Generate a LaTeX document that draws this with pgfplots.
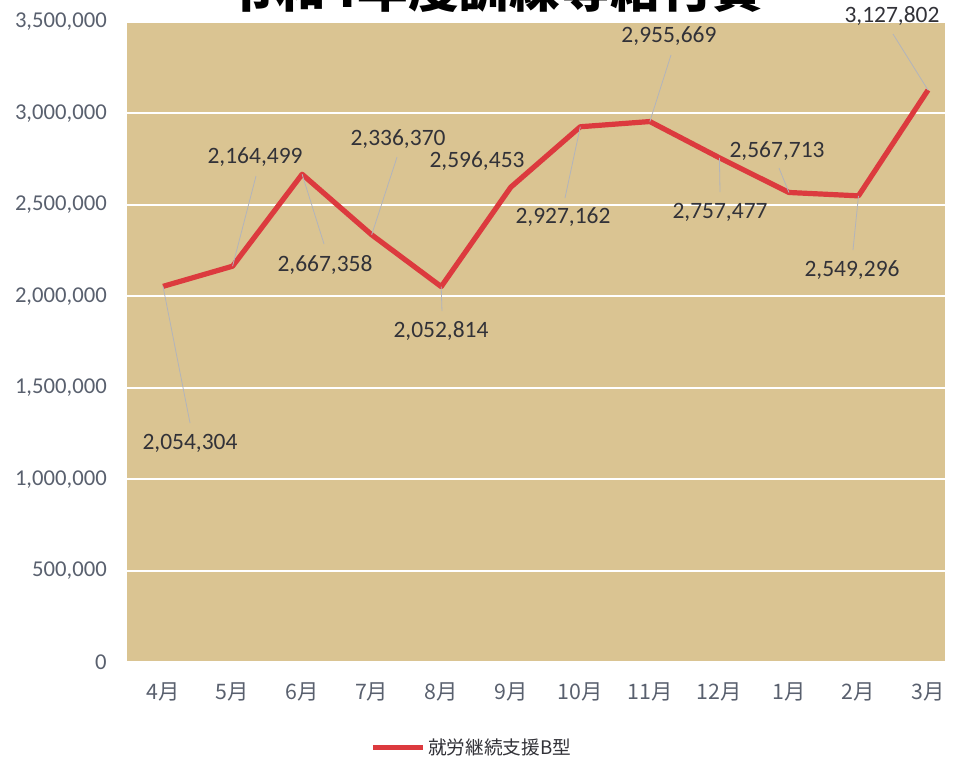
\documentclass[border=0pt]{standalone}
\usepackage{fontspec}
\setmainfont{Carlito}
\newfontfamily\jp{Noto Sans CJK JP}
\usepackage{pgfplots}
\pgfplotsset{compat=1.18}
\definecolor{bg}{RGB}{218,196,146}
\definecolor{ln}{RGB}{220,58,62}
\definecolor{tk}{RGB}{89,96,110}
\definecolor{dl}{RGB}{50,50,56}
\definecolor{ld}{RGB}{178,180,188}
\begin{document}
\begin{tikzpicture}
\node[overlay, anchor=base, inner sep=0pt, font=\jp\bfseries\fontsize{38}{40}\selectfont] at (370.5pt,564pt) {令和4年度訓練等給付費};
\begin{axis}[
 at={(95.25pt,73.5pt)}, anchor=south west,
 scale only axis, width=613.5pt, height=480pt,
 xmin=-0.518, xmax=11.244, ymin=0, ymax=3500000,
 axis background/.style={fill=bg},
 axis line style={draw=none},
 major tick length=0pt,
 xtick={0,1,2,3,4,5,6,7,8,9,10,11},
 xticklabels={4月,5月,6月,7月,8月,9月,10月,11月,12月,1月,2月,3月},
 xticklabel style={font=\jp\fontsize{16}{16}\selectfont, text=tk, anchor=center, yshift=-22.5pt},
 ytick={0,500000,1000000,1500000,2000000,2500000,3000000,3500000},
 scaled y ticks=false,
 yticklabel style={font=\fontsize{17}{17}\selectfont, text=tk, anchor=east, inner sep=0pt, xshift=-15pt,
   /pgf/number format/fixed, /pgf/number format/1000 sep={,}, /pgf/number format/assume math mode=true},
 ymajorgrids, grid style={white, line width=1.5pt},
 clip=false,
 legend style={at={(0.4218,-0.134)}, anchor=center, draw=none, fill=none, font=\jp\fontsize{14}{14}\selectfont, text=dl},
 legend image code/.code={\draw[ln, line width=3.75pt] (0pt,0pt) -- (37.5pt,0pt);},
]
\addplot[ln, line width=3.9pt, line join=round] coordinates {
 (0,2054304) (1,2164499) (2,2667358) (3,2336370) (4,2052814) (5,2596453)
 (6,2927162) (7,2955669) (8,2757477) (9,2567713) (10,2549296) (11,3127802)};
\addlegendentry{就労継続支援B型}
\begin{scope}[ld, line width=0.6pt]
\draw (axis cs:0,2054304) -- (axis cs:0.388,1307000);
\draw (axis cs:1,2164499) -- (axis cs:1.337,2657700);
\draw (axis cs:2,2667358) -- (axis cs:2.315,2285900);
\draw (axis cs:3,2336370) -- (axis cs:3.365,2761600);
\draw (axis cs:4,2052814) -- (axis cs:4.011,1919500);
\draw (axis cs:6,2927162) -- (axis cs:5.780,2537400);
\draw (axis cs:7,2955669) -- (axis cs:7.304,3319400);
\draw (axis cs:8,2757477) -- (axis cs:8.009,2570200);
\draw (axis cs:9,2567713) -- (axis cs:8.857,2701500);
\draw (axis cs:10,2549296) -- (axis cs:9.921,2253000);
\draw (axis cs:11,3127802) -- (axis cs:10.496,3434300);
\end{scope}
\begin{scope}[every node/.style={text=dl, font=\fontsize{17.6}{17.6}\selectfont, inner sep=0pt}]
\node at (axis cs:0.388,1197600) {2,054,304};
\node at (axis cs:1.323,2761600) {2,164,499};
\node at (axis cs:2.329,2171000) {2,667,358};
\node at (axis cs:3.379,2860100) {2,336,370};
\node at (axis cs:3.997,1810100) {2,052,814};
\node at (axis cs:4.515,2739800) {2,596,453};
\node at (axis cs:5.751,2433500) {2,927,162};
\node at (axis cs:7.275,3423300) {2,955,669};
\node at (axis cs:8.009,2460900) {2,757,477};
\node at (axis cs:8.829,2794500) {2,567,713};
\node at (axis cs:9.907,2143700) {2,549,296};
\node at (axis cs:10.482,3532700) {3,127,802};
\end{scope}
\end{axis}
\pgfresetboundingbox
\path[use as bounding box] (0,0) rectangle (718.5pt,570pt);
\end{tikzpicture}
\end{document}
